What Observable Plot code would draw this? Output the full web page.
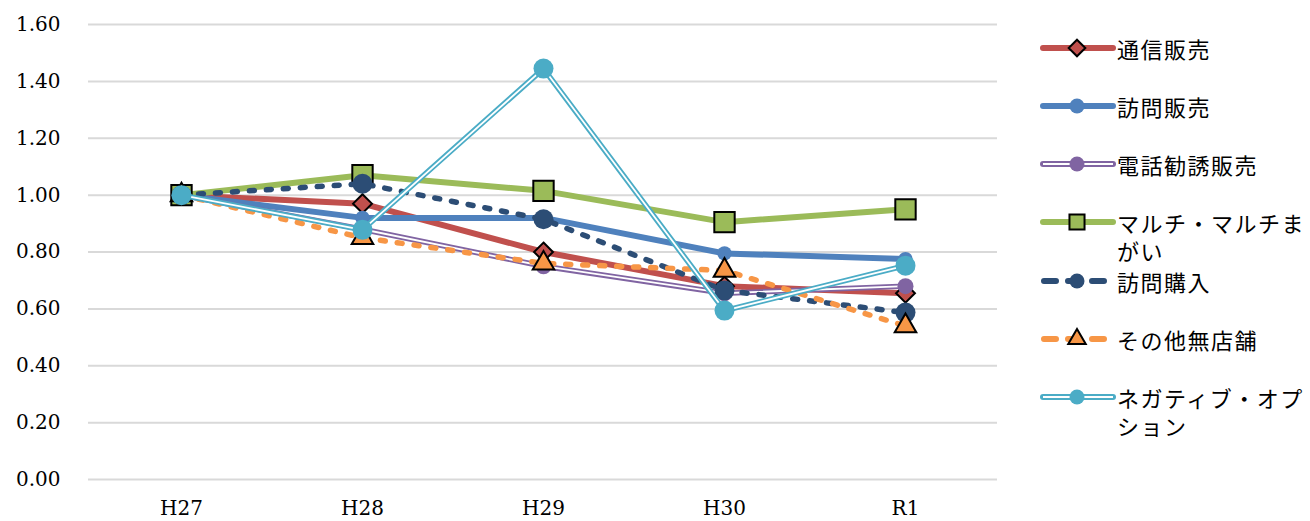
<!DOCTYPE html>
<html><head><meta charset="utf-8">
<script src="https://cdn.jsdelivr.net/npm/d3@7"></script>
<script src="https://cdn.jsdelivr.net/npm/@observablehq/plot@0.6"></script>
<style>
body{margin:0;background:#fff;}
#wrap{position:relative;width:1310px;height:521px;overflow:hidden;}
#legend{position:absolute;left:1040px;top:0;font-family:"Noto Sans CJK JP",sans-serif;font-size:22px;color:#000;}
.item{position:absolute;left:0;display:flex;align-items:flex-start;}
.item svg{flex:none;display:block}
.item span{display:block;width:195px;line-height:28px;padding-top:2px;letter-spacing:1.5px;word-break:break-all;}
</style>
</head><body>
<div id="wrap"><div id="chart"></div><div id="legend"></div></div>
<script>
const years = ["H27","H28","H29","H30","R1"];
const seriesNames = ["通信販売","訪問販売","電話勧誘販売","マルチ・マルチまがい","訪問購入","その他無店舗","ネガティブ・オプション"];
const mailOrder      = [1.00, 0.97, 0.80, 0.68, 0.655];
const doorToDoor     = [1.00, 0.92, 0.92, 0.795, 0.775];
const phoneSales     = [1.00, 0.88, 0.75, 0.655, 0.68];
const multiLevel     = [1.00, 1.07, 1.015, 0.905, 0.95];
const visitPurchase  = [1.00, 1.04, 0.915, 0.665, 0.587];
const otherNonStore  = [1.00, 0.85, 0.76, 0.735, 0.54];
const negativeOption = [1.00, 0.878, 1.445, 0.594, 0.752];
const yTicks = [0, 0.2, 0.4, 0.6, 0.8, 1.0, 1.2, 1.4, 1.6];

const values = [mailOrder, doorToDoor, phoneSales, multiLevel, visitPurchase, otherNonStore, negativeOption];
const styles = [
  {color:"#C0504D", double:false, dash:null, symbol:"diamond2", r:8.5, lr:7.5, stroke:"#000"},
  {color:"#4F81BD", double:false, dash:null, symbol:"circle", r:7.2, lr:7.5, stroke:"none"},
  {color:"#8064A2", double:true, dash:null, symbol:"circle", r:8, lr:7.5, stroke:"none"},
  {color:"#9BBB59", double:false, dash:null, symbol:"square", r:11.5, lr:8.5, stroke:"#000"},
  {color:"#2C4D75", double:false, dash:"5,12", symbol:"circle", r:10, lr:7.5, stroke:"none"},
  {color:"#F79646", double:false, dash:"5,12", symbol:"triangle", r:8, lr:6.5, stroke:"#000"},
  {color:"#4BACC6", double:true, dash:null, symbol:"circle", r:10, lr:7.5, stroke:"none"}
];

const marks = [Plot.ruleY(yTicks, {stroke:"#d9d9d9", strokeWidth:2})];
seriesNames.forEach((name, i) => {
  const rows = years.map((yr, j) => ({year: yr, value: values[i][j], series: name}));
  const s = styles[i];
  if (s.double) {
    marks.push(Plot.line(rows, {x:"year", y:"value", stroke:s.color, strokeWidth:5.5}));
    marks.push(Plot.line(rows, {x:"year", y:"value", stroke:"white", strokeWidth:1.8}));
  } else {
    marks.push(Plot.line(rows, {x:"year", y:"value", stroke:s.color, strokeWidth:s.dash ? 5.5 : 6, strokeDasharray:s.dash || undefined}));
  }
  marks.push(Plot.dot(rows, {x:"year", y:"value", symbol:()=>s.symbol, r:s.r, fill:s.color, stroke:s.stroke, strokeWidth:2}));
});

const chart = Plot.plot({
  width: 1310, height: 521,
  marginLeft: 88, marginRight: 313, marginTop: 24, marginBottom: 42,
  style: {fontFamily: "DejaVu Serif", fontSize: "20px", color: "#000", background: "#fff"},
  x: {type: "point", domain: years, padding: 0.5},
  y: {domain: [0, 1.6]},
  symbol: {type: "identity"},
  marks: [
    Plot.axisY({ticks: yTicks, tickFormat: d => d.toFixed(2), tickSize: 0, tickPadding: 28, label: null, fontSize: 20}),
    Plot.axisX({tickSize: 0, tickPadding: 21, label: null, fontSize: 20}),
    ...marks
  ]
});
document.getElementById("chart").appendChild(chart);

// legend
const legendTops = [48, 106, 164, 222, 281, 339, 397];
const leg = document.getElementById("legend");
const symMap = {circle: d3.symbolCircle, square: d3.symbolSquare, triangle: d3.symbolTriangle, diamond2: d3.symbolDiamond2};
seriesNames.forEach((name, i) => {
  const s = styles[i];
  const item = document.createElement("div");
  item.className = "item";
  item.style.top = (legendTops[i] - 16) + "px";
  const svg = d3.create("svg").attr("width", 77).attr("height", 32);
  if (s.double) {
    svg.append("line").attr("x1",3).attr("x2",73).attr("y1",16).attr("y2",16).attr("stroke",s.color).attr("stroke-width",6).attr("stroke-linecap","round");
    svg.append("line").attr("x1",3).attr("x2",73).attr("y1",16).attr("y2",16).attr("stroke","white").attr("stroke-width",2);
  } else if (s.dash) {
    svg.append("line").attr("x1",4).attr("x2",73).attr("y1",16).attr("y2",16).attr("stroke",s.color).attr("stroke-width",6).attr("stroke-linecap","round").attr("stroke-dasharray","12,12");
  } else {
    svg.append("line").attr("x1",3).attr("x2",73).attr("y1",16).attr("y2",16).attr("stroke",s.color).attr("stroke-width",6).attr("stroke-linecap","round");
  }
  svg.append("path").attr("transform","translate(37,16)")
    .attr("d", d3.symbol(symMap[s.symbol], Math.PI * s.lr * s.lr)())
    .attr("fill", s.color).attr("stroke", s.stroke).attr("stroke-width", 2);
  item.appendChild(svg.node());
  const span = document.createElement("span");
  span.textContent = name;
  item.appendChild(span);
  leg.appendChild(item);
});
</script>
</body></html>
